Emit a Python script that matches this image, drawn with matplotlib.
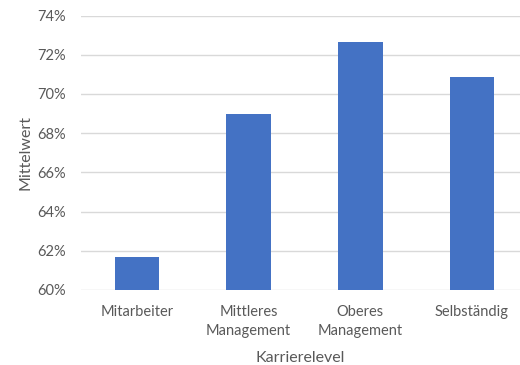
import matplotlib.pyplot as plt
from matplotlib.ticker import FuncFormatter

categories = ['Mitarbeiter', 'Mittleres\nManagement', 'Oberes\nManagement', 'Selbständig']
means = [61.66, 69.0, 72.65, 70.84]
yticks = [60, 62, 64, 66, 68, 70, 72, 74]

plt.rcParams['font.family'] = ['Lato', 'DejaVu Sans']
text_color = '#595959'

fig = plt.figure(figsize=(5.2, 3.65), dpi=100)
ax = fig.add_axes([0.1558, 0.2055, 0.844, 0.752])

x = range(len(categories))
ax.bar(x, means, width=0.40, color='#4472C4', zorder=3)

ax.set_ylim(60, 74)
ax.set_yticks(yticks)
ax.yaxis.set_major_formatter(FuncFormatter(lambda v, p: f'{v:.0f}%'))
ax.set_xlim(-0.5, 3.43)
ax.set_xticks(list(x))
ax.set_xticklabels(categories, linespacing=1.45)

ax.grid(axis='y', color='#d9d9d9', linewidth=1, zorder=0)
ax.set_axisbelow(True)
for side in ['top', 'right', 'left', 'bottom']:
    ax.spines[side].set_visible(False)
ax.tick_params(axis='both', length=0, colors=text_color, labelsize=10.5)
ax.tick_params(axis='x', pad=11)
ax.tick_params(axis='y', pad=11)

ax.set_xlabel('Karrierelevel', color=text_color, fontsize=11.5, labelpad=9)
ax.set_ylabel('Mittelwert', color=text_color, fontsize=11.5, labelpad=3)

fig.savefig('out.png', dpi=100)
